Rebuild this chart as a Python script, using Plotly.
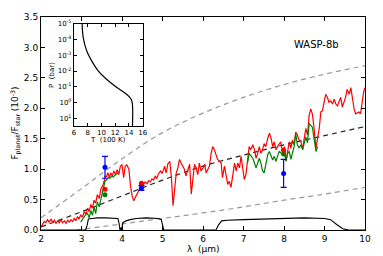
import plotly.graph_objects as go

# ---------------- data ----------------
red_wl = [2.00, 2.04, 2.08, 2.12, 2.16, 2.20, 2.25, 2.29, 2.33, 2.37, 2.41, 2.45, 2.49, 2.53, 2.58,
          2.62, 2.66, 2.70, 2.74, 2.78, 2.82, 2.86, 2.90, 2.94, 2.98, 3.02, 3.07, 3.11, 3.15, 3.19,
          3.23, 3.27, 3.31, 3.35, 3.39, 3.44, 3.48, 3.52, 3.56, 3.58, 3.62, 3.65, 3.69, 3.72, 3.76,
          3.80, 3.84, 3.88, 3.92, 3.96, 4.00, 4.04, 4.08, 4.12, 4.17, 4.21, 4.25, 4.29, 4.33, 4.37,
          4.41, 4.45, 4.49, 4.53, 4.57, 4.62, 4.66, 4.70, 4.74, 4.78, 4.82, 4.86, 4.90, 4.95, 4.99,
          5.03, 5.05, 5.09, 5.13, 5.18, 5.22, 5.26, 5.30, 5.34, 5.38, 5.42, 5.46, 5.50, 5.54, 5.58,
          5.63, 5.67, 5.71, 5.75, 5.79, 5.83, 5.87, 5.91, 5.95, 6.00, 6.04, 6.08, 6.12, 6.16, 6.20,
          6.24, 6.28, 6.32, 6.36, 6.41, 6.45, 6.48, 6.53, 6.61, 6.65, 6.69, 6.73, 6.78, 6.82, 6.86,
          6.90, 6.94, 6.98, 7.02, 7.06, 7.10, 7.14, 7.18, 7.23, 7.27, 7.31, 7.35, 7.39, 7.43, 7.47,
          7.51, 7.55, 7.60, 7.64, 7.68, 7.72, 7.76, 7.80, 7.84, 7.88, 7.92, 7.96, 8.01, 8.05, 8.09,
          8.13, 8.17, 8.21, 8.25, 8.29, 8.33, 8.37, 8.42, 8.46, 8.50, 8.54, 8.58, 8.62, 8.66, 8.70,
          8.74, 8.79, 8.83, 8.87, 8.91, 8.95, 8.99, 9.03, 9.07, 9.11, 9.15, 9.20, 9.24, 9.28, 9.32,
          9.36, 9.40, 9.44, 9.48, 9.52, 9.56, 9.61, 9.65, 9.69, 9.73, 9.77, 9.81, 9.85, 9.89, 9.93,
          9.97, 10.0]
red_flux = [0.05, 0.10, 0.14, 0.12, 0.17, 0.13, 0.18, 0.12, 0.16, 0.11, 0.15, 0.12, 0.17, 0.12, 0.15,
            0.11, 0.16, 0.13, 0.17, 0.14, 0.19, 0.15, 0.22, 0.18, 0.25, 0.21, 0.30, 0.26, 0.36, 0.30,
            0.42, 0.36, 0.49, 0.44, 0.58, 0.52, 0.68, 0.72, 0.80, 0.88, 0.88, 0.94, 0.86, 0.94, 0.89,
            0.97, 0.91, 0.99, 0.91, 1.05, 1.07, 0.86, 1.05, 1.07, 1.00, 0.72, 0.56, 0.48, 0.55, 0.59,
            0.64, 0.70, 0.76, 0.74, 0.79, 0.76, 0.81, 0.79, 0.84, 0.82, 0.88, 0.85, 0.92, 0.97, 0.93,
            1.00, 1.05, 0.94, 1.08, 1.13, 0.86, 0.40, 0.70, 0.94, 1.02, 1.16, 1.10, 1.05, 1.00, 0.89,
            1.02, 1.08, 0.59, 0.86, 1.08, 1.02, 0.91, 1.10, 0.97, 1.02, 1.08, 0.94, 0.99, 1.05, 1.26,
            1.37, 1.32, 1.24, 1.16, 1.13, 1.10, 0.86, 1.05, 0.75, 0.80, 0.70, 0.89, 1.10, 0.97, 1.10,
            1.02, 1.21, 1.02, 0.83, 0.91, 1.18, 1.37, 1.32, 1.40, 1.32, 1.18, 1.26, 1.37, 1.26, 1.32,
            1.42, 1.37, 1.51, 1.59, 1.51, 1.37, 1.45, 1.32, 1.37, 1.42, 1.45, 1.29, 1.37, 1.13, 1.32,
            1.45, 1.34, 1.48, 1.40, 1.61, 1.56, 1.48, 1.45, 1.32, 1.51, 1.67, 1.56, 1.88, 1.99, 1.91,
            1.69, 1.34, 1.51, 1.67, 1.94, 1.96, 2.10, 2.23, 2.18, 2.10, 2.12, 2.07, 2.15, 2.07, 2.04,
            2.12, 2.18, 2.02, 2.10, 2.18, 2.31, 2.23, 2.34, 2.12, 1.99, 1.91, 1.93, 1.94, 1.91, 2.10,
            2.28, 2.34]

green_wl = [2.98, 3.03, 3.07, 3.11, 3.15, 3.19, 3.23, 3.27, 3.31, 3.35, 3.39, 3.44, 3.48, 3.52, 3.56,
            3.58, 3.62, 3.66, 3.70, 3.74, 3.78, 3.82, 3.86, 3.90, None,
            7.10, 7.14, 7.18, 7.23, 7.27, 7.31, 7.35, 7.39, 7.43, 7.47, 7.51, 7.55, 7.60, 7.64, 7.68,
            7.72, 7.76, 7.80, 7.84, 7.88, 7.92, 7.96, 8.01, 8.05, 8.09, 8.13, 8.17, 8.21, 8.25, 8.29,
            8.33, 8.37, 8.42, 8.46, 8.50, 8.54, 8.58, 8.62, 8.66, 8.70, 8.74, 8.79, 8.83]
green_flux = [0.13, 0.18, 0.20, 0.26, 0.27, 0.20, 0.32, 0.24, 0.38, 0.27, 0.46, 0.38, 0.51, 0.62, 0.72,
              0.80, 0.83, 0.86, 0.85, 0.88, 0.87, 0.90, 0.92, 0.93, None,
              1.10, 1.26, 1.22, 1.18, 1.10, 1.02, 1.10, 1.18, 1.10, 0.97, 0.94, 1.10, 1.24, 1.29, 1.21,
              1.15, 1.21, 1.13, 1.21, 1.29, 1.27, 1.24, 1.26, 1.13, 1.26, 1.29, 1.16, 1.29, 1.37, 1.59,
              1.40, 1.35, 1.40, 1.32, 1.43, 1.53, 1.43, 1.75, 1.72, 1.69, 1.51, 1.29, 1.37]

bb_wl = [2, 3, 4, 5, 6, 7, 8, 9, 10]
bb_hot = [0.20, 0.68, 1.17, 1.60, 1.92, 2.18, 2.39, 2.56, 2.70]
bb_mid = [0.05, 0.30, 0.56, 0.82, 1.05, 1.23, 1.40, 1.55, 1.70]
bb_cold = [-0.08, 0.01, 0.10, 0.19, 0.28, 0.38, 0.49, 0.59, 0.70]

filt_wl = [2.0, 3.10, 3.14, 3.17, 3.25, 3.40, 3.60, 3.80, 3.90, 3.93, 3.95, 3.97, 3.99, 4.02, 4.10,
           4.20, 4.35, 4.60, 4.90, 4.97, 5.00, 5.03, 6.32, 6.38, 6.46, 6.60, 7.00, 7.50, 8.00, 8.50,
           9.00, 9.15, 9.30, 9.45, 9.60, 10.0]
filt_resp = [0.0, 0.0, 0.08, 0.18, 0.19, 0.20, 0.20, 0.20, 0.19, 0.10, 0.0, 0.04, 0.0, 0.12, 0.15,
             0.17, 0.19, 0.20, 0.19, 0.17, 0.05, 0.0, 0.0, 0.08, 0.15, 0.16, 0.17, 0.18, 0.19, 0.20,
             0.19, 0.17, 0.09, 0.02, 0.0, 0.0]

obs_wl = [3.58, 4.48, 7.99]
obs_flux = [1.03, 0.69, 0.93]
obs_err = [0.18, 0.04, 0.23]
model_red_wl = [3.58, 4.48, 7.99]
model_red = [0.67, 0.77, 1.31]
model_green_wl = [3.58, 4.48, 7.99]
model_green = [0.58, 0.76, 1.25]

tp_temp = [7.2, 7.35, 7.84, 8.56, 9.5, 10.7, 12.2, 13.6, 14.3, 14.5, 14.5]
tp_pres = [1e-5, 7e-5, 5e-4, 2.2e-3, 9.3e-3, 3.2e-2, 0.107, 0.29, 0.6, 1.25, 40.0]

x_ticks = [2, 3, 4, 5, 6, 7, 8, 9, 10]
y_ticks = [0.0, 0.5, 1.0, 1.5, 2.0, 2.5, 3.0, 3.5]
inset_x_ticks = [6, 8, 10, 12, 14, 16]
inset_y_ticks = [1e-5, 1e-4, 1e-3, 1e-2, 1e-1, 1e0, 1e1]
inset_y_labels = ["10<sup>-5</sup>", "10<sup>-4</sup>", "10<sup>-3</sup>", "10<sup>-2</sup>",
                  "10<sup>-1</sup>", "10<sup>0</sup>", "10<sup>1</sup>"]

# ---------------- figure ----------------
FONT = "DejaVu Sans"
fig = go.Figure()

dash = "5px,4px"
fig.add_trace(go.Scatter(x=bb_wl, y=bb_hot, mode="lines", line=dict(color="#999999", width=1.2, dash=dash, shape="spline")))
fig.add_trace(go.Scatter(x=bb_wl, y=bb_cold, mode="lines", line=dict(color="#999999", width=1.2, dash=dash, shape="spline")))
fig.add_trace(go.Scatter(x=bb_wl, y=bb_mid, mode="lines", line=dict(color="#222222", width=1.2, dash=dash, shape="spline")))
fig.add_trace(go.Scatter(x=filt_wl, y=filt_resp, mode="lines", line=dict(color="black", width=1.1)))
fig.add_trace(go.Scatter(x=red_wl, y=red_flux, mode="lines", line=dict(color="#ff0000", width=1.2)))
fig.add_trace(go.Scatter(x=green_wl, y=green_flux, mode="lines", line=dict(color="#008000", width=1.2), connectgaps=False))
fig.add_trace(go.Scatter(x=model_green_wl, y=model_green, mode="markers", marker=dict(color="#008000", size=5)))
fig.add_trace(go.Scatter(x=model_red_wl, y=model_red, mode="markers", marker=dict(color="#ff0000", size=5)))
fig.add_trace(go.Scatter(x=obs_wl, y=obs_flux, mode="markers",
                         marker=dict(color="#0000ff", size=5),
                         error_y=dict(type="data", array=obs_err, color="#0000ff", thickness=1.2, width=3)))

# inset
fig.add_trace(go.Scatter(x=tp_temp, y=tp_pres, mode="lines", line=dict(color="black", width=1.2, shape="spline"),
                         xaxis="x2", yaxis="y2"))

axis_common = dict(showline=True, linecolor="black", linewidth=1, mirror="allticks", ticks="inside",
                   ticklen=4, tickcolor="black", showgrid=False, zeroline=False)

fig.update_layout(
    width=383, height=256,
    margin=dict(l=41, r=17, t=13, b=26),
    paper_bgcolor="white", plot_bgcolor="white",
    showlegend=False,
    font=dict(family=FONT, size=9, color="black"),
    xaxis=dict(range=[2, 10], tickvals=x_ticks, ticktext=[str(v) for v in x_ticks],
               tickfont=dict(size=9), ticklabelstandoff=0, **axis_common),
    yaxis=dict(range=[0, 3.5], tickvals=y_ticks, ticktext=["%.1f" % v for v in y_ticks],
               tickfont=dict(size=9), **axis_common),
    xaxis2=dict(domain=[0.1015, 0.314], anchor="y2", range=[6, 16], tickvals=inset_x_ticks,
                ticktext=[str(v) for v in inset_x_ticks], tickfont=dict(size=7), ticklabelstandoff=0,
                showline=True, linecolor="black", linewidth=1, mirror="allticks", ticks="inside",
                ticklen=3, tickcolor="black", showgrid=False, zeroline=False),
    yaxis2=dict(domain=[0.488, 0.968], anchor="x2", type="log", range=[1.5, -5],
                tickvals=inset_y_ticks, ticktext=inset_y_labels, tickfont=dict(size=7),
                showline=True, linecolor="black", linewidth=1, mirror="allticks", ticks="inside",
                ticklen=3, tickcolor="black", showgrid=False, zeroline=False),
    shapes=[dict(type="rect", xref="paper", yref="paper", x0=0.1015, x1=0.314, y0=0.488, y1=0.968,
                 fillcolor="white", line=dict(width=0), layer="below")],
    annotations=[
        dict(text="WASP-8b", xref="paper", yref="paper", x=(317 - 41) / 325, y=(230 - 41) / 217,
             showarrow=False, font=dict(size=10), xanchor="center", yanchor="middle"),
        dict(text="λ  (μm)", xref="paper", yref="paper", x=0.5, y=-(249 - 230) / 217,
             showarrow=False, font=dict(size=9), xanchor="center", yanchor="middle"),
        dict(text="F<sub>planet</sub>/F<sub>star</sub> (10<sup>-3</sup>)", xref="paper", yref="paper",
             x=-(41 - 15) / 325, y=0.5, textangle=-90, showarrow=False, font=dict(size=9),
             xanchor="center", yanchor="middle"),
        dict(text="T  (100 K)", xref="paper", yref="paper", x=(108.5 - 41) / 325, y=(230 - 138) / 217,
             showarrow=False, font=dict(size=7), xanchor="center", yanchor="middle"),
        dict(text="P  (bar)", xref="paper", yref="paper", x=(52 - 41) / 325, y=(230 - 72) / 217,
             textangle=-90, showarrow=False, font=dict(size=7), xanchor="center", yanchor="middle"),
    ],
)

fig.write_html("out.html", config={"displayModeBar": False},
               post_script="document.body.style.margin='0';document.body.style.overflow='hidden';")
